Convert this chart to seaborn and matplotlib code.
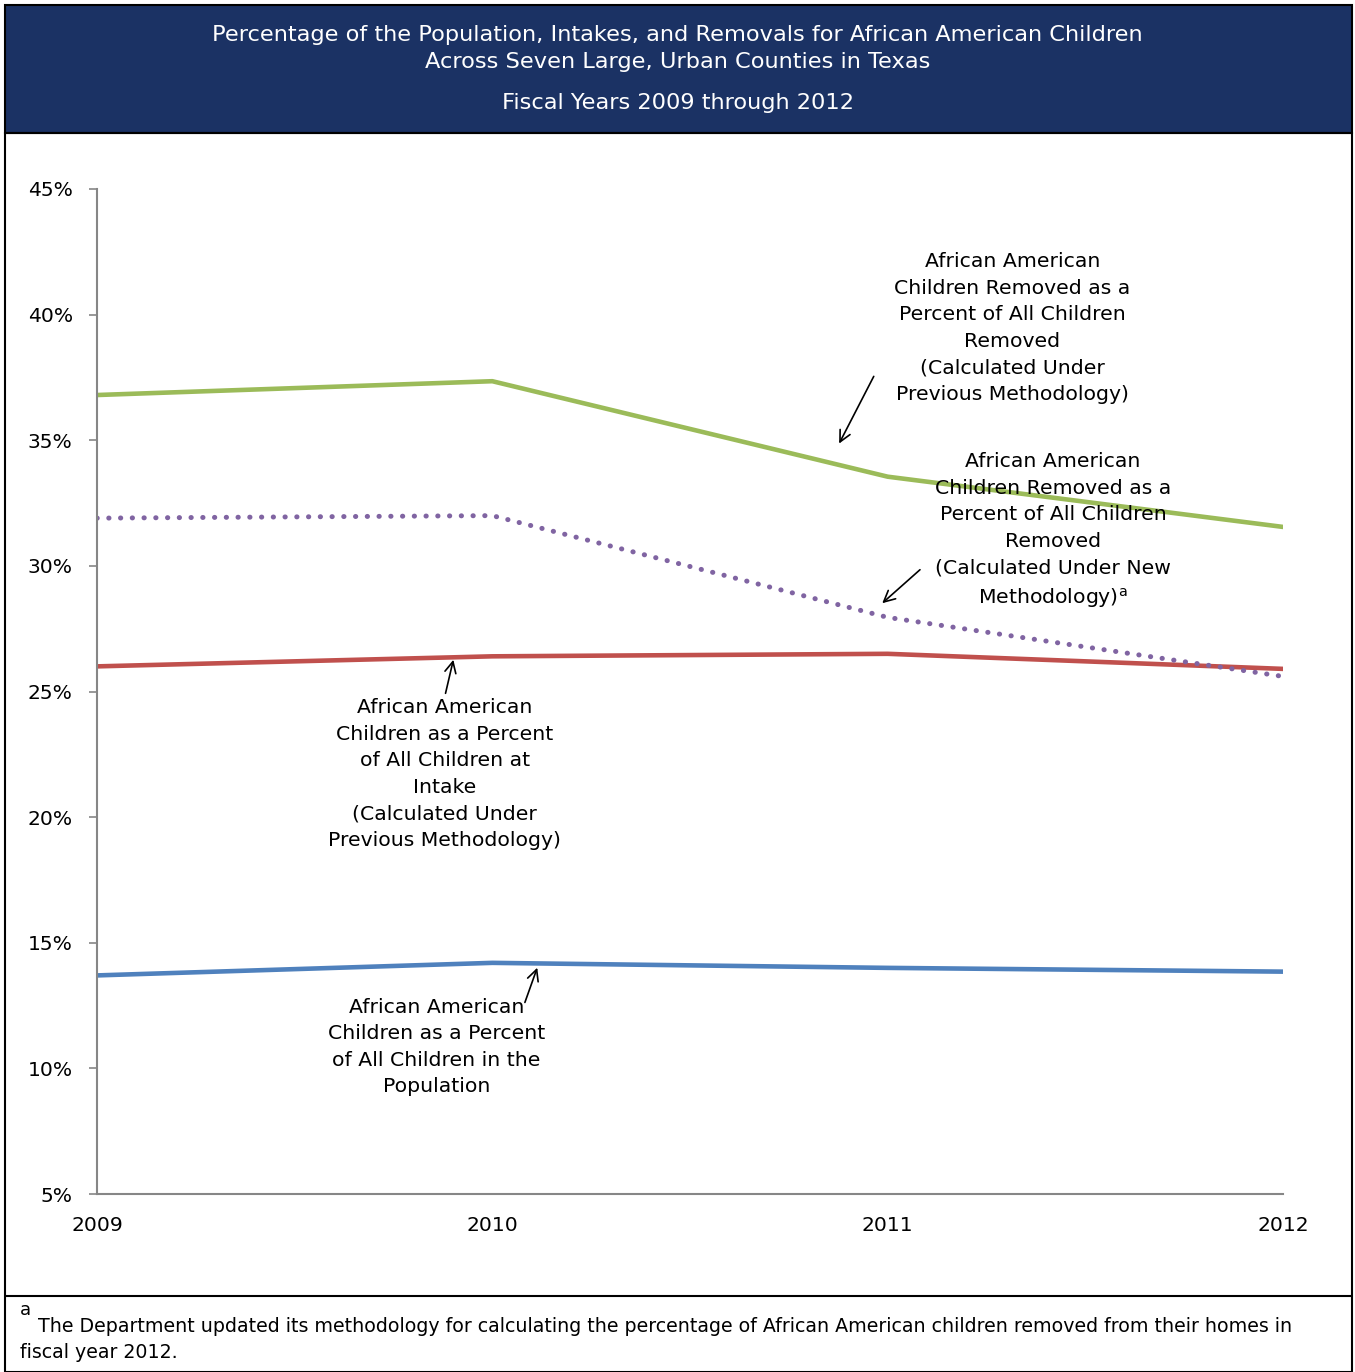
import matplotlib
matplotlib.use("Agg")
import matplotlib.pyplot as plt
from matplotlib.patches import Rectangle
from matplotlib.lines import Line2D
import seaborn as sns
import pandas as pd

# ---- data ----
years = [2009, 2010, 2011, 2012]
removed_prev = [36.8, 37.35, 33.55, 31.55]
removed_new = [31.9, 32.0, 27.95, 25.6]
intake_prev = [26.0, 26.4, 26.5, 25.9]
population = [13.7, 14.2, 14.0, 13.85]
y_ticks = [5, 10, 15, 20, 25, 30, 35, 40, 45]
y_tick_labels = ["5%", "10%", "15%", "20%", "25%", "30%", "35%", "40%", "45%"]

title_lines = ["Percentage of the Population, Intakes, and Removals for African American Children",
               "Across Seven Large, Urban Counties in Texas"]
subtitle = "Fiscal Years 2009 through 2012"
footnote_main = "The Department updated its methodology for calculating the percentage of African American children removed from their homes in"
footnote_2 = "fiscal year 2012."

sns.set_style("white")
plt.rcParams['font.family'] = ['DejaVu Sans']
plt.rcParams['text.color'] = 'black'
plt.rcParams['xtick.color'] = 'black'
plt.rcParams['ytick.color'] = 'black'

W, H = 1355, 1372
fig = plt.figure(figsize=(W / 100, H / 100), dpi=100)

def fx(px):
    return px / W

def fy(py):
    return 1 - py / H

# header box
fig.patches.append(Rectangle((fx(5), fy(133)), fx(1352) - fx(5), fy(5) - fy(133),
                             transform=fig.transFigure, facecolor="#1B3264",
                             edgecolor="black", linewidth=1.5, zorder=0))
# outer border of chart body
fig.patches.append(Rectangle((fx(5), fy(1372)), fx(1352) - fx(5), fy(133) - fy(1372),
                             transform=fig.transFigure, facecolor="none",
                             edgecolor="black", linewidth=1.5, zorder=0))
fig.lines.append(Line2D([fx(5), fx(1352)], [fy(1296), fy(1296)],
                        transform=fig.transFigure, color="black", linewidth=1.5))

hdr_fs = 16.2
fig.text(0.5, fy(35), title_lines[0], color="white", ha="center", va="center", fontsize=hdr_fs)
fig.text(0.5, fy(62), title_lines[1], color="white", ha="center", va="center", fontsize=hdr_fs)
fig.text(0.5, fy(103), subtitle, color="white", ha="center", va="center", fontsize=hdr_fs)

# footnote
fig.text(fx(20), fy(1310), "a", fontsize=13, ha="left", va="center")
fig.text(fx(38), fy(1326), footnote_main, fontsize=13.7, ha="left", va="center")
fig.text(fx(20), fy(1353), footnote_2, fontsize=13.7, ha="left", va="center")

# axes
ax = fig.add_axes([fx(97), fy(1194), fx(1283) - fx(97), fy(189) - fy(1194)])

df = pd.DataFrame({"year": years, "removed_prev": removed_prev, "removed_new": removed_new,
                   "intake_prev": intake_prev, "population": population})

sns.lineplot(data=df, x="year", y="removed_prev", ax=ax, color="#9BBB59", linewidth=3.3)
sns.lineplot(data=df, x="year", y="intake_prev", ax=ax, color="#C0504D", linewidth=3.3)
sns.lineplot(data=df, x="year", y="population", ax=ax, color="#4F81BD", linewidth=3.3)
sns.lineplot(data=df, x="year", y="removed_new", ax=ax, color="#8064A2", linewidth=3.6,
             linestyle=(0, (0.05, 2.3)), dash_capstyle="round")

ax.set_xlim(2009, 2012)
ax.set_ylim(5, 45)
ax.set_yticks(y_ticks)
ax.set_yticklabels(y_tick_labels, fontsize=14.6)
ax.set_xticks(years)
ax.set_xticklabels([str(y) for y in years], fontsize=14.6)
ax.set_xlabel("")
ax.set_ylabel("")
for s in ["top", "right"]:
    ax.spines[s].set_visible(False)
for s in ["left", "bottom"]:
    ax.spines[s].set_color("#868686")
    ax.spines[s].set_linewidth(1.5)
ax.tick_params(axis="y", which="both", left=True, length=6, width=1.2, color="#868686",
               labelcolor="black", pad=11.5)
ax.tick_params(axis="x", which="both", bottom=False, labelcolor="black", pad=12)

ann_fs = 14.7
ls = 1.5
arrow = dict(arrowstyle="->", color="black", lw=1.2, mutation_scale=20)

ax.annotate("", xy=(2010.874, 34.77), xytext=(2010.968, 37.64), arrowprops=arrow)
ax.text(2011.315, 39.47, "African American\nChildren Removed as a\nPercent of All Children\nRemoved\n(Calculated Under\nPrevious Methodology)",
        ha="center", va="center", fontsize=ann_fs, linespacing=ls)

ax.annotate("", xy=(2010.981, 28.44), xytext=(2011.087, 29.92), arrowprops=arrow)
ax.text(2011.418, 31.39, "African American\nChildren Removed as a\nPercent of All Children\nRemoved\n(Calculated Under New\nMethodology)$^{\\mathrm{a}}$",
        ha="center", va="center", fontsize=ann_fs, linespacing=ls)

ax.annotate("", xy=(2009.903, 26.37), xytext=(2009.880, 24.82), arrowprops=arrow)
ax.text(2009.880, 21.72, "African American\nChildren as a Percent\nof All Children at\nIntake\n(Calculated Under\nPrevious Methodology)",
        ha="center", va="center", fontsize=ann_fs, linespacing=ls)

ax.annotate("", xy=(2010.116, 14.11), xytext=(2010.080, 12.52), arrowprops=arrow)
ax.text(2009.858, 10.85, "African American\nChildren as a Percent\nof All Children in the\nPopulation",
        ha="center", va="center", fontsize=ann_fs, linespacing=ls)

fig.savefig("out.png", dpi=100)
